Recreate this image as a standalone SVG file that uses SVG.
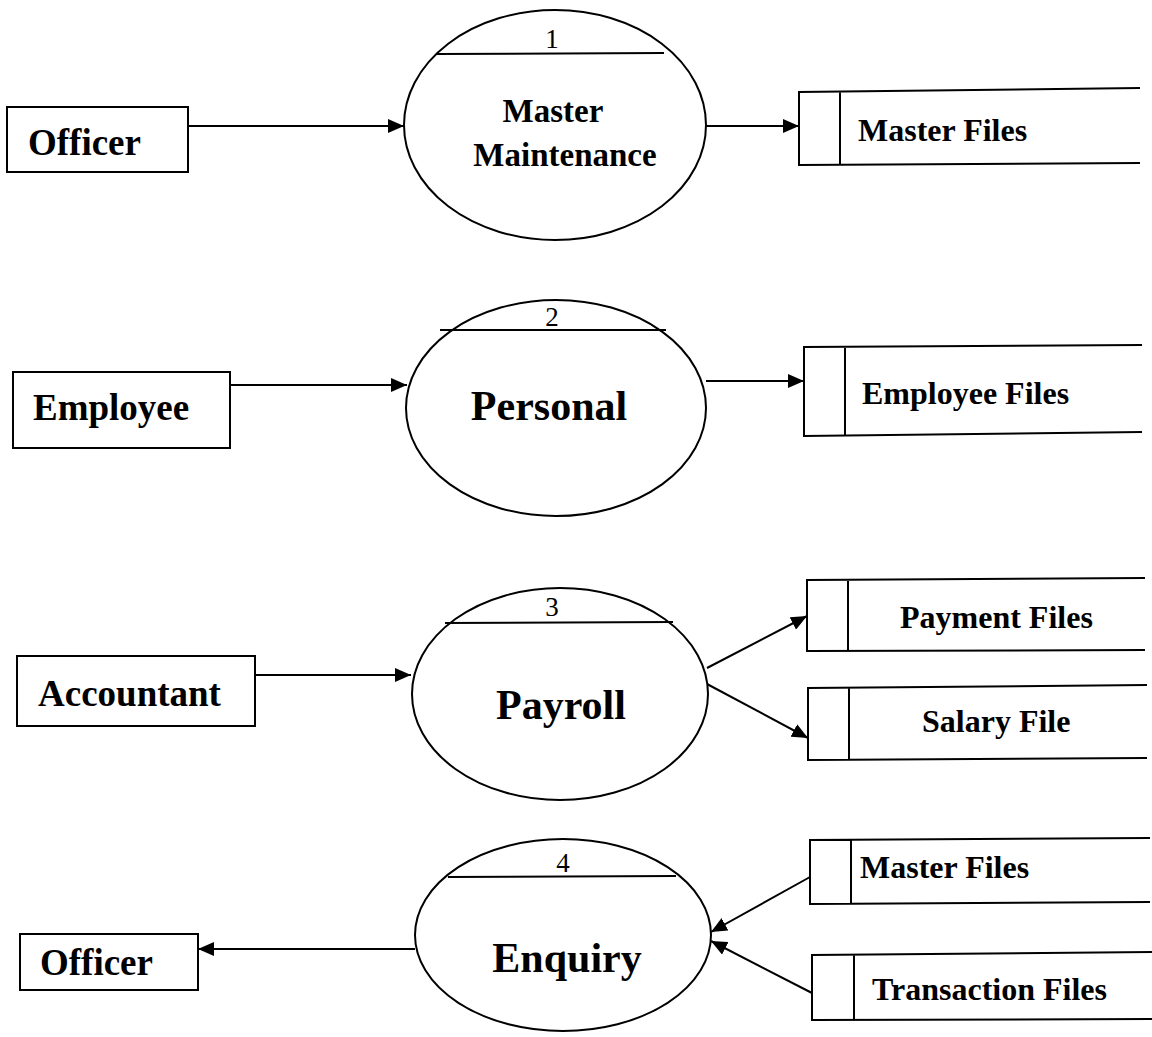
<svg xmlns="http://www.w3.org/2000/svg" width="1152" height="1037" viewBox="0 0 1152 1037">
  <style>
    .box { fill: #fff; stroke: #000; stroke-width: 2; }
    .proc { fill: #fff; stroke: #000; stroke-width: 2; }
    .ln { fill: none; stroke: #000; stroke-width: 2; }
    .flow { fill: none; stroke: #000; stroke-width: 2; marker-end: url(#arrow); }
    .t { font-family: "Liberation Serif", "Times New Roman", serif; font-weight: bold; fill: #000; }
    .ent { font-size: 37px; }
    .store { font-size: 32px; }
    .name { font-size: 42px; text-anchor: middle; }
    .num { font-family: "Liberation Serif", "Times New Roman", serif; font-size: 27px; fill: #000; text-anchor: middle; }
  </style>
  <defs>
    <marker id="arrow" viewBox="0 0 16 14" refX="16" refY="7" markerWidth="16" markerHeight="14" markerUnits="userSpaceOnUse" orient="auto">
      <path d="M0,0 L16,7 L0,14 Z" fill="#000"/>
    </marker>
  </defs>
  <rect width="1152" height="1037" fill="#fff"/>

  <!-- data flows -->
  <g id="connectors">
    <line class="flow" x1="188" y1="126" x2="404" y2="126"/>
    <line class="flow" x1="706" y1="126" x2="799" y2="126"/>
    <line class="flow" x1="230" y1="385" x2="407" y2="385"/>
    <line class="flow" x1="706" y1="381" x2="804" y2="381"/>
    <line class="flow" x1="255" y1="675" x2="411" y2="675"/>
    <line class="flow" x1="707" y1="668" x2="807" y2="616"/>
    <line class="flow" x1="707" y1="684" x2="808" y2="738"/>
    <line class="flow" x1="415" y1="949" x2="198" y2="949"/>
    <line class="flow" x1="810" y1="877" x2="711" y2="932"/>
    <line class="flow" x1="812" y1="993" x2="711" y2="941"/>
  </g>

  <!-- external entities -->
  <g id="officer-in">
    <rect class="box" x="7" y="107" width="181" height="65"/>
    <text class="t ent" x="28" y="155">Officer</text>
  </g>
  <g id="employee">
    <rect class="box" x="13" y="372" width="217" height="76"/>
    <text class="t ent" x="33" y="420">Employee</text>
  </g>
  <g id="accountant">
    <rect class="box" x="17" y="656" width="238" height="70"/>
    <text class="t ent" x="38" y="706">Accountant</text>
  </g>
  <g id="officer-out">
    <rect class="box" x="20" y="934" width="178" height="56"/>
    <text class="t ent" x="40" y="975">Officer</text>
  </g>

  <!-- processes -->
  <g id="process-1">
    <ellipse class="proc" cx="555" cy="125" rx="151" ry="115"/>
    <line class="ln" x1="437" y1="54" x2="664" y2="53"/>
    <text class="num" x="552" y="48">1</text>
    <text class="t" x="553" y="122" font-size="33" text-anchor="middle">Master</text>
    <text class="t" x="565" y="166" font-size="33" text-anchor="middle">Maintenance</text>
  </g>
  <g id="process-2">
    <ellipse class="proc" cx="556" cy="408" rx="150" ry="108"/>
    <line class="ln" x1="440" y1="330" x2="666" y2="330"/>
    <text class="num" x="552" y="326">2</text>
    <text class="t name" x="549" y="420">Personal</text>
  </g>
  <g id="process-3">
    <ellipse class="proc" cx="560" cy="694" rx="148" ry="106"/>
    <line class="ln" x1="445" y1="623" x2="673" y2="622"/>
    <text class="num" x="552" y="616">3</text>
    <text class="t name" x="561" y="719">Payroll</text>
  </g>
  <g id="process-4">
    <ellipse class="proc" cx="563" cy="935" rx="148" ry="96"/>
    <line class="ln" x1="448" y1="877" x2="676" y2="876"/>
    <text class="num" x="563" y="872">4</text>
    <text class="t name" x="567" y="972">Enquiry</text>
  </g>

  <!-- data stores -->
  <g id="store-master-1">
    <path class="ln" d="M1140,88 L799,92 L799,165 L1140,163 M840,92 L840,165"/>
    <text class="t store" x="858" y="141">Master Files</text>
  </g>
  <g id="store-employee">
    <path class="ln" d="M1142,345 L804,347 L804,436 L1142,432 M845,347 L845,436"/>
    <text class="t store" x="862" y="404">Employee Files</text>
  </g>
  <g id="store-payment">
    <path class="ln" d="M1145,578 L807,580 L807,651 L1145,650 M848,580 L848,651"/>
    <text class="t store" x="900" y="628">Payment Files</text>
  </g>
  <g id="store-salary">
    <path class="ln" d="M1147,685 L808,688 L808,760 L1147,758 M849,688 L849,760"/>
    <text class="t store" x="922" y="732">Salary File</text>
  </g>
  <g id="store-master-2">
    <path class="ln" d="M1150,838 L810,840 L810,904 L1150,902 M851,840 L851,904"/>
    <text class="t store" x="860" y="878">Master Files</text>
  </g>
  <g id="store-transaction">
    <path class="ln" d="M1152,952 L812,955 L812,1020 L1152,1019 M854,955 L854,1020"/>
    <text class="t store" x="872" y="1000">Transaction Files</text>
  </g>
</svg>
